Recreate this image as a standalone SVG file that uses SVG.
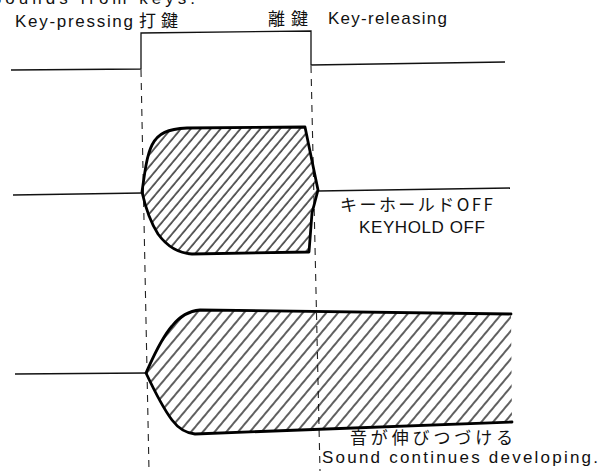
<svg xmlns="http://www.w3.org/2000/svg" width="605" height="471" viewBox="0 0 605 471">
  <style>
    .t { font-family: "Liberation Sans", "Noto Sans CJK JP", sans-serif; font-size: 17px; fill: #111; }
    .j { font-family: "Noto Sans CJK JP", "Liberation Sans", sans-serif; font-size: 17px; fill: #111; }
    .thin { fill: none; stroke: #111; stroke-width: 1.3; stroke-linejoin: miter; }
    .thick { fill: none; stroke: #000; stroke-width: 2.8; stroke-linejoin: round; stroke-linecap: round; }
    .guide { fill: none; stroke: #222; stroke-width: 1.1; stroke-dasharray: 7 6; }
  </style>
  <defs>
    <pattern id="hatch" patternUnits="userSpaceOnUse" width="7.6" height="20" patternTransform="rotate(40)">
      <line x1="1" y1="-2" x2="1" y2="22" stroke="#000" stroke-width="1.25"/>
    </pattern>
    <pattern id="hatch2" patternUnits="userSpaceOnUse" width="9" height="20" patternTransform="rotate(40)">
      <line x1="1" y1="-2" x2="1" y2="22" stroke="#000" stroke-width="1.25"/>
    </pattern>
  </defs>
  <rect width="605" height="471" fill="#fff"/>

  <g id="labels">
    <text class="t" x="-10" y="4" textLength="205" lengthAdjust="spacing">Sounds from keys.</text>
    <text class="t" x="15" y="27" font-size="18" textLength="118" lengthAdjust="spacing">Key-pressing</text>
    <text class="j" x="139" y="27" font-size="18" textLength="39" lengthAdjust="spacing">打鍵</text>
    <text class="j" x="268" y="25" font-size="18" textLength="40" lengthAdjust="spacing">離鍵</text>
    <text class="t" x="328" y="24" font-size="18" textLength="119" lengthAdjust="spacing">Key-releasing</text>
    <text class="j" x="340" y="211" font-size="16" textLength="153" lengthAdjust="spacing">キーホールドOFF</text>
    <text class="t" x="359" y="233" textLength="126" lengthAdjust="spacing">KEYHOLD OFF</text>
    <text class="j" x="350" y="444" font-size="15" textLength="163" lengthAdjust="spacing">音が伸びつづける</text>
    <text class="t" x="322" y="463" font-size="16" textLength="276" lengthAdjust="spacing">Sound continues developing.</text>
  </g>

  <g id="connectors">
    <line class="guide" x1="141" y1="70" x2="149" y2="471"/>
    <line class="guide" x1="311" y1="66" x2="320" y2="471"/>
  </g>

  <g id="key-signal">
    <path class="thin" d="M11,70 L141,69 L141,33 L311,31 L311,65 L505,62"/>
  </g>

  <g id="keyhold-envelope">
    <path class="thin" d="M13,195 L142,193"/>
    <path class="thin" d="M318,191 L510,188"/>
    <path d="M142,192 C145,170 147,155 152,145 C158,133 168,129 187,128 L305,127 L318,190 L312,213 L309,252 L192,254 C176,253 166,245 158,234 C151,223 146,210 142,192 Z" fill="url(#hatch)" stroke="none"/>
    <path class="thick" d="M142,192 C145,170 147,155 152,145 C158,133 168,129 187,128 L305,127 L318,190 L312,213 L309,252 L192,254 C176,253 166,245 158,234 C151,223 146,210 142,192 Z"/>
  </g>

  <g id="sustain-envelope">
    <path class="thin" d="M15,374 L146,373"/>
    <path d="M146,373 C152,360 160,340 172,326 C180,316 188,311 200,310 L511,314 L512,422 L300,430 L195,434 C185,433 178,428 172,420 C163,408 154,390 146,373 Z" fill="url(#hatch2)" stroke="none"/>
    <path class="thick" d="M511,314 L200,310 C188,311 180,316 172,326 C160,340 152,360 146,373 C154,390 163,408 172,420 C178,428 185,433 195,434 L300,430 L512,422"/>
  </g>
</svg>
